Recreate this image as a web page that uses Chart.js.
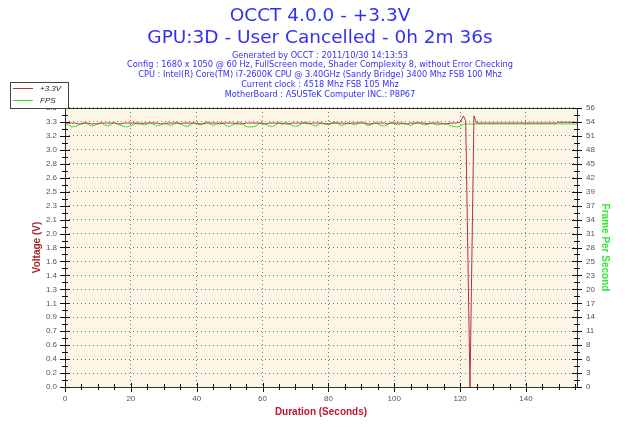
<!DOCTYPE html>
<html>
<head>
<meta charset="utf-8">
<script src="https://cdn.jsdelivr.net/npm/chart.js@4"></script>
<style>
  html, body { margin: 0; padding: 0; background: #fff; }
  #wrap { width: 640px; height: 427px; }
</style>
</head>
<body>
<div id="wrap"><canvas id="c" width="640" height="427"></canvas></div>
<script>
const titleLines = ['OCCT 4.0.0 - +3.3V', 'GPU:3D - User Cancelled - 0h 2m 36s'];
const infoLines = [
  'Generated by OCCT : 2011/10/30 14:13:53',
  'Config : 1680 x 1050 @ 60 Hz, FullScreen mode, Shader Complexity 8, without Error Checking',
  'CPU : Intel(R) Core(TM) i7-2600K CPU @ 3.40GHz (Sandy Bridge) 3400 Mhz FSB 100 Mhz',
  'Current clock : 4518 Mhz FSB 105 Mhz',
  'MotherBoard : ASUSTeK Computer INC.: P8P67'
];

// seconds
const times = [
  0, 1, 2, 3, 4, 5, 6, 7, 8, 9,
  10, 11, 12, 13, 14, 15, 16, 17, 18, 19,
  20, 21, 22, 23, 24, 25, 26, 27, 28, 29,
  30, 31, 32, 33, 34, 35, 36, 37, 38, 39,
  40, 41, 42, 43, 44, 45, 46, 47, 48, 49,
  50, 51, 52, 53, 54, 55, 56, 57, 58, 59,
  60, 61, 62, 63, 64, 65, 66, 67, 68, 69,
  70, 71, 72, 73, 74, 75, 76, 77, 78, 79,
  80, 81, 82, 83, 84, 85, 86, 87, 88, 89,
  90, 91, 92, 93, 94, 95, 96, 97, 98, 99,
  100, 101, 102, 103, 104, 105, 106, 107, 108, 109,
  110, 111, 112, 113, 114, 115, 116, 117, 118, 119,
  120, 121, 121.7, 123, 124.2, 125, 126, 128, 130, 132,
  134, 136, 138, 140, 142, 144, 146, 148, 149.3, 149.6,
  152, 154, 155.5
];

const voltage = [
  3.33, 3.33, 3.33, 3.33, 3.32, 3.32, 3.33, 3.33, 3.32, 3.32,
  3.32, 3.33, 3.33, 3.33, 3.33, 3.33, 3.32, 3.32, 3.33, 3.33,
  3.33, 3.33, 3.32, 3.32, 3.33, 3.33, 3.33, 3.33, 3.33, 3.32,
  3.32, 3.33, 3.33, 3.33, 3.33, 3.32, 3.33, 3.33, 3.33, 3.33,
  3.33, 3.32, 3.32, 3.33, 3.33, 3.33, 3.33, 3.32, 3.33, 3.33,
  3.33, 3.33, 3.32, 3.32, 3.32, 3.33, 3.33, 3.33, 3.33, 3.33,
  3.32, 3.32, 3.33, 3.33, 3.33, 3.33, 3.32, 3.32, 3.32, 3.33,
  3.33, 3.33, 3.33, 3.33, 3.32, 3.33, 3.33, 3.33, 3.33, 3.32,
  3.32, 3.33, 3.33, 3.33, 3.33, 3.33, 3.32, 3.33, 3.33, 3.33,
  3.33, 3.33, 3.32, 3.32, 3.33, 3.33, 3.33, 3.33, 3.32, 3.33,
  3.33, 3.33, 3.33, 3.32, 3.32, 3.33, 3.33, 3.33, 3.33, 3.33,
  3.32, 3.33, 3.33, 3.33, 3.33, 3.32, 3.32, 3.33, 3.33, 3.33,
  3.34, 3.42, 3.36, 0.0, 3.42, 3.33, 3.33, 3.33, 3.33, 3.33,
  3.33, 3.33, 3.33, 3.33, 3.33, 3.33, 3.33, 3.33, 3.33, 3.34,
  3.34, 3.34, 3.34
];

const fps = [
  53.0, 52.6, 52.2, 52.3, 52.5, 52.9, 53.1, 52.7, 52.4, 52.5,
  52.9, 53.0, 52.6, 52.4, 52.7, 53.1, 52.8, 52.5, 52.3, 52.2,
  52.4, 52.8, 53.2, 52.9, 52.6, 52.8, 53.1, 52.7, 52.4, 52.6,
  53.0, 52.8, 52.5, 52.7, 53.2, 52.9, 52.5, 52.3, 52.6, 53.0,
  52.8, 52.6, 52.9, 53.3, 52.8, 52.5, 52.7, 53.1, 52.9, 52.4,
  52.3, 52.6, 53.0, 53.2, 52.8, 52.3, 52.2, 52.2, 52.4, 52.9,
  53.1, 52.7, 52.4, 52.3, 52.6, 53.0, 52.9, 53.2, 52.8, 52.5,
  52.3, 52.5, 52.9, 53.2, 53.0, 52.6, 52.4, 52.7, 53.0, 52.8,
  52.6, 52.9, 53.2, 52.8, 52.5, 52.7, 53.1, 52.8, 52.6, 52.9,
  53.3, 52.9, 52.4, 52.7, 53.0, 52.8, 52.5, 52.4, 52.7, 53.1,
  52.9, 52.6, 52.8, 53.0, 52.7, 52.5, 52.8, 53.1, 52.9, 52.6,
  52.7, 52.9, 52.8, 52.6, 52.7, 52.9, 52.8, 52.5, 52.3, 52.2,
  52.4, 52.7, 52.8, 52.8, 52.8, 52.8, 52.8, 52.8, 52.8, 52.8,
  52.8, 52.8, 52.8, 52.8, 52.8, 52.8, 52.8, 52.8, 52.8, 52.8,
  52.8, 52.8, 52.8
];

const xTicks = [0, 20, 40, 60, 80, 100, 120, 140];
const voltLabels = ['0.0', '0.2', '0.4', '0.6', '0.7', '0.9', '1.1', '1.3', '1.4', '1.6', '1.8',
  '2.0', '2.1', '2.3', '2.5', '2.6', '2.8', '3.0', '3.2', '3.3', '3.5'];
const fpsLabels = ['0', '3', '6', '8', '11', '14', '17', '20', '23', '25', '28',
  '31', '34', '37', '39', '42', '45', '48', '51', '54', '56'];

const X_MAX = 155.5;
const V_MAX = 3.52;
const F_MAX = 56;

const BLUE = '#3131f5';
const RED = '#b83434';
const GREEN = '#2fe82f';
const TICK_FONT = { family: 'Liberation Sans', size: 8 };

function evenTicks(max, labels) {
  return labels.map((l, i) => ({ value: max * i / (labels.length - 1) }));
}

const decor = {
  id: 'decor',
  beforeDraw(chart) {
    const { ctx, chartArea: a } = chart;
    ctx.save();
    ctx.fillStyle = '#fdf5e5';
    ctx.fillRect(a.left, a.top, a.right - a.left, a.bottom - a.top);
    ctx.restore();
  },
  afterDraw(chart) {
    const { ctx, chartArea: a, scales } = chart;
    ctx.save();

    // frame
    ctx.strokeStyle = '#333';
    ctx.lineWidth = 1;
    ctx.strokeRect(a.left + 0.5, a.top + 0.5, a.right - a.left, a.bottom - a.top);

    // tick marks
    ctx.strokeStyle = '#111';
    ctx.beginPath();
    const yV = scales.yV, yF = scales.yF, x = scales.x;
    for (let i = 0; i < voltLabels.length; i++) {
      const y = Math.round(yV.getPixelForValue(V_MAX * i / (voltLabels.length - 1))) + 0.5;
      ctx.moveTo(a.left - 5, y); ctx.lineTo(a.left + 5, y);
      if (i < voltLabels.length - 1) {
        const ym = Math.round(yV.getPixelForValue(V_MAX * (i + 0.5) / (voltLabels.length - 1))) + 0.5;
        ctx.moveTo(a.left - 3, ym); ctx.lineTo(a.left + 3, ym);
      }
    }
    for (let i = 0; i < fpsLabels.length; i++) {
      const y = Math.round(yF.getPixelForValue(F_MAX * i / (fpsLabels.length - 1))) + 0.5;
      ctx.moveTo(a.right - 5, y); ctx.lineTo(a.right + 5, y);
      if (i < fpsLabels.length - 1) {
        const ym = Math.round(yF.getPixelForValue(F_MAX * (i + 0.5) / (fpsLabels.length - 1))) + 0.5;
        ctx.moveTo(a.right - 3, ym); ctx.lineTo(a.right + 3, ym);
      }
    }
    for (let v = 0; v <= X_MAX; v += 5) {
      const px = Math.round(x.getPixelForValue(v)) + 0.5;
      const big = v % 20 === 0;
      ctx.moveTo(px, a.bottom - (big ? 4 : 3)); ctx.lineTo(px, a.bottom + (big ? 5 : 3));
    }
    ctx.stroke();

    // titles
    ctx.textAlign = 'center';
    ctx.textBaseline = 'middle';
    ctx.fillStyle = BLUE;
    ctx.font = '18.5px "DejaVu Sans"';
    ctx.fillText(titleLines[0], 320, 16);
    ctx.fillText(titleLines[1], 320, 38);
    ctx.font = '8.2px "DejaVu Sans"';
    infoLines.forEach((t, i) => ctx.fillText(t, 320, 55.5 + i * 9.8));

    // axis titles
    ctx.font = 'bold 10px "Liberation Sans"';
    ctx.fillStyle = '#c0143c';
    ctx.fillText('Duration (Seconds)', (a.left + a.right) / 2, 412);
    ctx.save();
    ctx.translate(37, (a.top + a.bottom) / 2);
    ctx.rotate(-Math.PI / 2);
    ctx.fillStyle = '#a52a2a';
    ctx.fillText('Voltage (V)', 0, 0);
    ctx.restore();
    ctx.save();
    ctx.translate(605, (a.top + a.bottom) / 2);
    ctx.rotate(Math.PI / 2);
    ctx.fillStyle = GREEN;
    ctx.fillText('Frame Per Second', 0, 0);
    ctx.restore();

    // legend
    ctx.fillStyle = '#fff';
    ctx.fillRect(10, 82, 58, 26);
    ctx.strokeStyle = '#444';
    ctx.strokeRect(10.5, 82.5, 58, 26);
    ctx.lineWidth = 1;
    ctx.strokeStyle = RED;
    ctx.beginPath(); ctx.moveTo(13, 88.5); ctx.lineTo(33, 88.5); ctx.stroke();
    ctx.strokeStyle = GREEN;
    ctx.beginPath(); ctx.moveTo(13, 100.5); ctx.lineTo(33, 100.5); ctx.stroke();
    ctx.fillStyle = '#222';
    ctx.textAlign = 'left';
    ctx.font = 'italic 8px "Liberation Sans"';
    ctx.fillText('+3.3V', 40, 89);
    ctx.fillText('FPS', 40, 101);

    ctx.restore();
  }
};

const ctx = document.getElementById('c').getContext('2d');
new Chart(ctx, {
  type: 'line',
  data: {
    datasets: [
      {
        label: '+3.3V',
        data: times.map((t, i) => ({ x: t, y: voltage[i] })),
        yAxisID: 'yV',
        borderColor: RED,
        borderWidth: 1,
        pointRadius: 0,
        tension: 0
      },
      {
        label: 'FPS',
        data: times.map((t, i) => ({ x: t, y: fps[i] })),
        yAxisID: 'yF',
        borderColor: GREEN,
        borderWidth: 1,
        pointRadius: 0,
        tension: 0
      }
    ]
  },
  options: {
    responsive: false,
    animation: false,
    layout: { padding: { top: 108, left: 0, right: 0, bottom: 0 } },
    plugins: { legend: { display: false }, tooltip: { enabled: false } },
    scales: {
      x: {
        type: 'linear',
        min: 0,
        max: X_MAX,
        afterBuildTicks: s => { s.ticks = xTicks.map(v => ({ value: v })); },
        afterFit: s => { s.height = 40; },
        ticks: { color: '#555', font: TICK_FONT, padding: 7, maxRotation: 0, autoSkip: false },
        grid: { color: '#777', drawTicks: false },
        border: { display: false, dash: [1, 3] }
      },
      yV: {
        type: 'linear',
        position: 'left',
        min: 0,
        max: V_MAX,
        afterBuildTicks: s => { s.ticks = evenTicks(V_MAX, voltLabels); },
        afterFit: s => { s.width = 65; },
        ticks: {
          color: '#555', font: TICK_FONT, padding: 8, autoSkip: false,
          callback: (v, i) => voltLabels[i]
        },
        grid: { color: '#777', drawTicks: false },
        border: { display: false, dash: [1, 3] }
      },
      yF: {
        type: 'linear',
        position: 'right',
        min: 0,
        max: F_MAX,
        afterBuildTicks: s => { s.ticks = evenTicks(F_MAX, fpsLabels); },
        afterFit: s => { s.width = 63; },
        ticks: {
          color: '#555', font: TICK_FONT, padding: 9, autoSkip: false,
          callback: (v, i) => fpsLabels[i]
        },
        grid: { display: false, drawTicks: false },
        border: { display: false }
      }
    }
  },
  plugins: [decor]
});
</script>
</body>
</html>
